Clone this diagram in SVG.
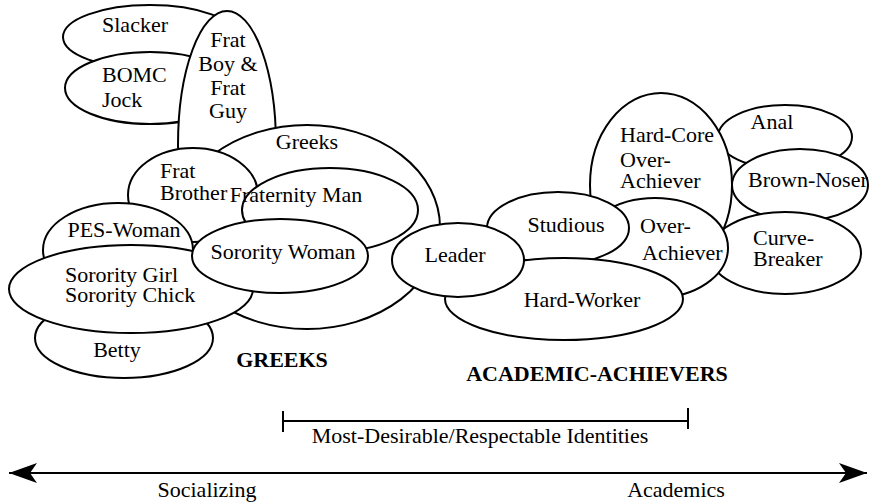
<svg xmlns="http://www.w3.org/2000/svg" width="869" height="504" viewBox="0 0 869 504">
<style>
ellipse{fill:#fff;stroke:#000;stroke-width:2}
text{font-family:"Liberation Serif","Times New Roman",serif;font-size:22px;fill:#000}
.c{text-anchor:middle}
.b{font-weight:bold}
.ln{stroke:#000;stroke-width:2;fill:none}
</style>
<defs>
<marker id="ah" markerUnits="userSpaceOnUse" markerWidth="32" markerHeight="24" viewBox="0 -12 32 24" refX="30" refY="0" orient="auto-start-reverse">
<path d="M2,-10 L30,0 L2,10 L9,0 z" fill="#000"/>
</marker>
</defs>
<g id="slacker"><ellipse cx="150" cy="37" rx="87" ry="32"/><text class="c" x="135" y="32">Slacker</text></g>
<g id="bomc"><ellipse cx="150" cy="88" rx="85" ry="36"/><text x="102" y="82">BOMC</text><text x="102" y="107">Jock</text></g>
<g id="fratboy"><ellipse cx="227" cy="145" rx="49" ry="134"/><text class="c" x="228" y="47">Frat</text><text class="c" x="228" y="71">Boy &amp;</text><text class="c" x="228" y="95">Frat</text><text class="c" x="228" y="118">Guy</text></g>
<g id="greeks"><ellipse cx="307" cy="227" rx="133" ry="102"/><text class="c" x="307" y="149">Greeks</text></g>
<g id="fratbrother"><ellipse cx="193" cy="195" rx="65" ry="47"/><text x="160" y="178">Frat</text><text x="160" y="200">Brother</text></g>
<g id="fraternityman"><ellipse cx="330" cy="210" rx="88" ry="42"/><text class="c" x="296" y="202">Fraternity Man</text></g>
<g id="peswoman"><ellipse cx="118" cy="250" rx="75" ry="47"/><text class="c" x="124" y="237">PES-Woman</text></g>
<g id="betty"><ellipse cx="124" cy="338" rx="89" ry="40"/><text class="c" x="117" y="357">Betty</text></g>
<g id="sororitygirl"><ellipse cx="131" cy="289" rx="122" ry="44"/><text x="65" y="282">Sorority Girl</text><text x="65" y="302">Sorority Chick</text></g>
<g id="sororitywoman"><ellipse cx="280" cy="256" rx="88" ry="37"/><text class="c" x="283" y="259">Sorority Woman</text></g>
<g id="anal"><ellipse cx="785" cy="137" rx="67" ry="32"/><text class="c" x="772" y="129">Anal</text></g>
<g id="brownnoser"><ellipse cx="800" cy="185" rx="68" ry="36"/><text x="748" y="187">Brown-Noser</text></g>
<g id="curvebreaker"><ellipse cx="785" cy="253" rx="76" ry="41"/><text x="753" y="245">Curve-</text><text x="753" y="266">Breaker</text></g>
<g id="hardcore"><ellipse cx="661" cy="185" rx="71" ry="92"/><text x="620" y="142">Hard-Core</text><text x="620" y="167">Over-</text><text x="620" y="188">Achiever</text></g>
<g id="overachiever"><ellipse cx="655" cy="248" rx="73" ry="50"/><text x="640" y="233">Over-</text><text x="642" y="260">Achiever</text></g>
<g id="studious"><ellipse cx="558" cy="228" rx="71" ry="36"/><text class="c" x="566" y="232">Studious</text></g>
<g id="hardworker"><ellipse cx="564" cy="299" rx="119" ry="41"/><text class="c" x="582" y="307">Hard-Worker</text></g>
<g id="leader"><ellipse cx="458" cy="260" rx="66" ry="37"/><text class="c" x="455" y="262">Leader</text></g>
<g id="labels">
<text class="c b" x="282" y="367">GREEKS</text>
<text class="c b" x="597" y="381">ACADEMIC-ACHIEVERS</text>
<text class="c" x="480" y="443">Most-Desirable/Respectable Identities</text>
<text class="c" x="207" y="497">Socializing</text>
<text class="c" x="676" y="497">Academics</text>
</g>
<g id="connectors">
<path class="ln" d="M283,421 H688 M283,411 V432 M688,408 V429"/>
<line class="ln" x1="9" y1="473" x2="867" y2="473" marker-start="url(#ah)" marker-end="url(#ah)"/>
</g>
</svg>
